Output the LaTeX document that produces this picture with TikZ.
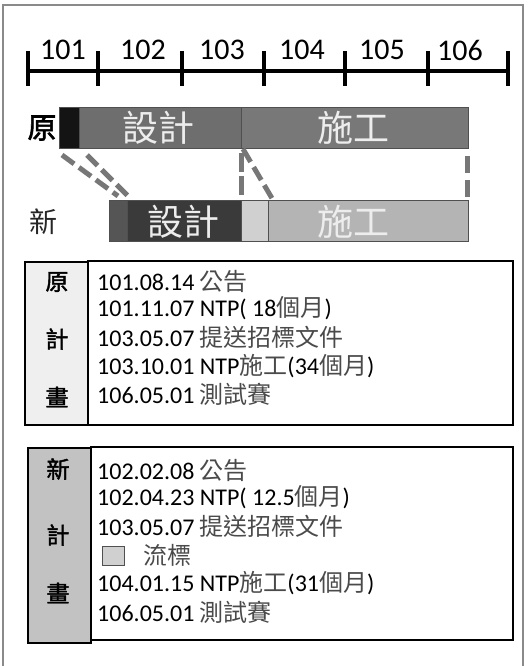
\documentclass[tikz,border=0pt]{standalone}
\usepackage{fontspec}
\setmainfont{Carlito}
\newfontfamily\cjk{Noto Sans CJK TC}
\newfontfamily\cjkbold[FakeBold=2]{Noto Sans CJK TC}
\definecolor{zhgray}{HTML}{4A4A4A}
\definecolor{framegray}{HTML}{8A8A8A}
\definecolor{dashgray}{HTML}{777777}
\definecolor{oldblack}{HTML}{141414}
\definecolor{olddesign}{HTML}{6E6E6E}
\definecolor{oldbuild}{HTML}{787878}
\definecolor{newfirst}{HTML}{555555}
\definecolor{newdesign}{HTML}{3A3A3A}
\definecolor{newgap}{HTML}{D0D0D0}
\definecolor{newbuild}{HTML}{B4B4B4}
\definecolor{barline}{HTML}{505050}
\definecolor{cellold}{HTML}{EFEFEF}
\definecolor{cellnew}{HTML}{C2C2C2}
\newcommand\zh[1]{{\cjk\color{zhgray}#1}}
\begin{document}
\begin{tikzpicture}[x=1pt,y=-1pt,
  yearlbl/.style={font=\fontsize{30}{30}\selectfont, inner sep=0},
  tick/.style={line width=4pt},
  seg/.style={draw=barline, line width=1pt, anchor=north west, inner sep=0, minimum height=41pt},
  bartxt/.style={font=\cjk\fontsize{36}{36}\selectfont, text=white!93!black, inner sep=0},
  dline/.style={draw=dashgray, line width=5pt, dash pattern=on 15pt off 6pt},
  cellbox/.style={draw=black, line width=1.5pt},
  cellchar/.style={font=\cjkbold\fontsize{23}{23}\selectfont, inner sep=0},
  txtline/.style={font=\fontsize{24}{24}\selectfont, anchor=west, inner sep=0}
]
\useasboundingbox (0,0) rectangle (528,666);
\draw[framegray, line width=1.5pt] (3,5) rectangle (523,670);

% timeline
\coordinate (t0) at (28,71);
\coordinate (t1) at (98,71);
\coordinate (t2) at (182,71);
\coordinate (t3) at (264,71);
\coordinate (t4) at (345,71);
\coordinate (t5) at (428,71);
\coordinate (t6) at (508,71);
\draw[line width=3.5pt] (t0) -- (t6);
\foreach \t in {t0,t1,t2,t3,t4,t5,t6}{
  \draw[tick] ([yshift=-15pt]\t) -- ([yshift=20pt]\t);
}
\node[yearlbl] (y101) at (63,50) {101};
\node[yearlbl] (y102) at (143,50) {102};
\node[yearlbl] (y103) at (222,50) {103};
\node[yearlbl] (y104) at (302,50) {104};
\node[yearlbl] (y105) at (382,50) {105};
\node[yearlbl] (y106) at (460,50) {106};

% original bar
\node[font=\cjkbold\fontsize{29}{29}\selectfont, inner sep=0] (lold) at (42,128) {原};
\node[seg, fill=oldblack, minimum width=20pt] (ob) at (59,107) {};
\node[seg, fill=olddesign, minimum width=162pt] (od) at (79,107) {};
\node[seg, fill=oldbuild, minimum width=227pt] (oc) at (241,107) {};
\node[bartxt] (odt) at (158,128) {設計};
\node[bartxt] (oct) at (353,128) {施工};

% new bar
\node[font=\cjk\fontsize{28}{28}\selectfont, text=black!85, inner sep=0] (lnew) at (43,222) {新};
\node[seg, fill=newfirst, minimum width=18pt] (nf) at (109,200) {};
\node[seg, fill=newdesign, minimum width=114pt] (nd) at (127,200) {};
\node[seg, fill=newgap, minimum width=27pt] (ng) at (241,200) {};
\node[seg, fill=newbuild, minimum width=200pt] (nc) at (268,200) {};
\node[bartxt] (ndt) at (183,222) {設計};
\node[bartxt] (nct) at (353,222) {施工};

% dashed connectors
\coordinate (d1a) at (62,155);  \coordinate (d1b) at (118,196);
\coordinate (d2a) at (87,155);  \coordinate (d2b) at (128,196);
\coordinate (d3a) at (241,153); \coordinate (d3b) at (241,197);
\coordinate (d4a) at (243,149); \coordinate (d4b) at (273,200);
\coordinate (d5a) at (467,156); \coordinate (d5b) at (467,197);
\draw[dline] (d1a) -- (d1b);
\draw[dline] (d2a) -- (d2b);
\draw[dline, dash pattern=on 19pt off 4pt] (d3a) -- (d3b);
\draw[dline] (d4a) -- (d4b);
\draw[dline, dash pattern=on 17pt off 7pt] (d5a) -- (d5b);

% original plan box
\draw[cellbox] (88,261) rectangle (513,425);
\draw[cellbox, fill=cellold] (25,262) rectangle (88,425);
\node[cellchar] (o1) at (57,282) {原};
\node[cellchar] (o2) at (57,339) {計};
\node[cellchar] (o3) at (57,397) {畫};
\node[txtline] (ol1) at (97,281) {101.08.14 \zh{公告}};
\node[txtline] (ol2) at (97,308) {101.11.07 NTP( 18\zh{個月})};
\node[txtline] (ol3) at (97,337) {103.05.07 \zh{提送招標文件}};
\node[txtline] (ol4) at (97,366) {103.10.01 NTP\zh{施工}(34\zh{個月})};
\node[txtline] (ol5) at (97,394) {106.05.01 \zh{測試賽}};

% new plan box
\draw[cellbox] (91,447) rectangle (513,640);
\draw[cellbox, line width=2pt, fill=cellnew] (28,448) rectangle (91,643);
\node[cellchar] (n1) at (58,469) {新};
\node[cellchar] (n2) at (58,535) {計};
\node[cellchar] (n3) at (58,593) {畫};
\node[txtline] (nl1) at (97,470) {102.02.08 \zh{公告}};
\node[txtline] (nl2) at (97,497) {102.04.23 NTP( 12.5\zh{個月})};
\node[txtline] (nl3) at (97,526) {103.05.07 \zh{提送招標文件}};
\node[draw=barline, line width=1pt, fill=newgap, minimum width=22pt, minimum height=19pt, inner sep=0] (sq) at (113.5,555.5) {};
\node[txtline] (nl4) at (143,555) {\zh{流標}};
\node[txtline] (nl5) at (97,583) {104.01.15 NTP\zh{施工}(31\zh{個月})};
\node[txtline] (nl6) at (97,612) {106.05.01 \zh{測試賽}};
\end{tikzpicture}
\end{document}
